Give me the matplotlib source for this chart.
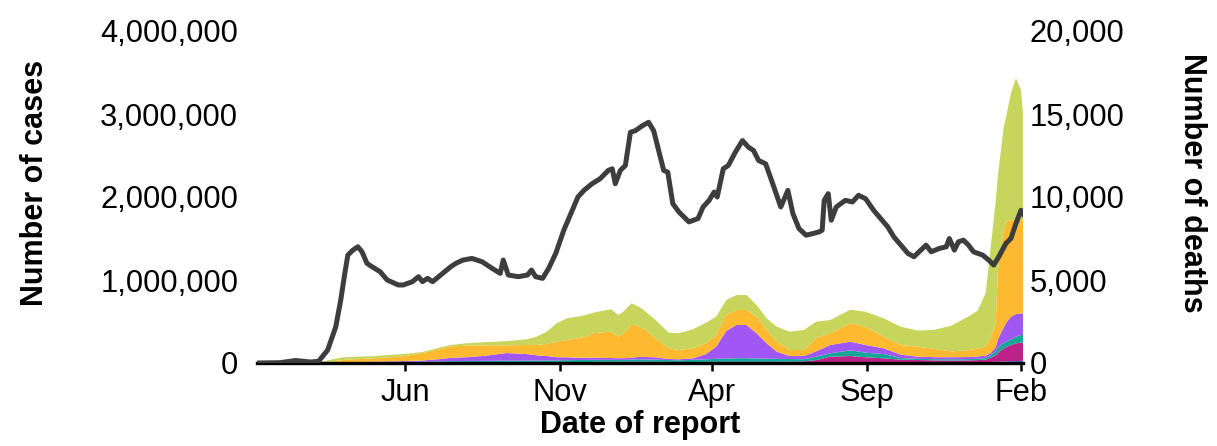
import matplotlib
matplotlib.use("Agg")
import matplotlib.pyplot as plt
import matplotlib.dates as mdates
from matplotlib.ticker import FuncFormatter
import numpy as np
import pandas as pd

plt.rcParams['font.family'] = ['Liberation Sans', 'DejaVu Sans']

ORIGIN = "2020-01-01"

# ---- cases by region (thousands per day), day = days since 2020-01-01
case_day = [5, 30, 45, 60, 70, 78, 90, 102, 120, 135,
            152, 169, 187, 197, 212, 232, 252, 272, 282, 292,
            302, 312, 322, 331, 338, 348, 356, 363, 368, 376,
            380, 386, 390, 400, 413, 423, 437, 450, 460, 470,
            480, 490, 500, 510, 520, 533, 547, 559, 573, 593,
            608, 626, 643, 660, 676, 693, 710, 719, 727, 732,
            737, 739, 742, 745, 747, 752, 757, 762, 765]
afro = [0, 0, 0, 0, 0, 0, 0, 1, 1, 1,
        1, 2, 2, 2, 2, 3, 3, 3, 3, 3,
        3, 3, 3, 3, 3, 3, 3, 3, 3, 4,
        4, 4, 4, 4, 3, 3, 3, 3, 3, 3,
        3, 3, 3, 3, 3, 3, 3, 5, 8, 8,
        8, 7, 6, 6, 6, 6, 7, 8, 10, 12,
        15, 16, 18, 19, 20, 22, 24, 25, 25]
wpro = [0, 1, 3, 1, 1, 2, 2, 2, 2, 3,
        3, 3, 3, 4, 4, 4, 5, 5, 5, 6,
        6, 7, 8, 9, 10, 11, 12, 12, 12, 12,
        14, 13, 12, 11, 10, 9, 9, 10, 11, 11,
        11, 11, 11, 11, 12, 13, 17, 30, 68, 76,
        61, 49, 34, 30, 26, 24, 25, 27, 30, 53,
        75, 104, 132, 156, 169, 195, 213, 220, 220]
emro = [0, 0, 0, 1, 2, 3, 4, 6, 8, 9,
        10, 12, 15, 17, 18, 19, 20, 21, 22, 22,
        23, 24, 25, 25, 25, 24, 23, 22, 22, 24,
        27, 27, 26, 25, 22, 21, 26, 32, 36, 41,
        44, 44, 41, 38, 35, 32, 25, 41, 41, 69,
        55, 52, 20, 14, 14, 15, 15, 15, 20, 30,
        50, 60, 67, 65, 68, 68, 80, 92, 95]
searo = [0, 0, 0, 0, 0, 0, 1, 2, 4, 7,
         10, 13, 28, 39, 45, 62, 92, 79, 63, 53,
         37, 35, 28, 27, 26, 24, 22, 21, 21, 22,
         25, 31, 30, 29, 13, 12, 18, 63, 147, 331,
         400, 400, 303, 185, 86, 36, 39, 64, 100, 104,
         93, 69, 40, 26, 24, 24, 25, 28, 30, 25,
         50, 100, 141, 190, 221, 273, 273, 258, 260]
amro = [0, 0, 0, 0, 2, 10, 29, 34, 40, 48,
        60, 90, 121, 138, 140, 125, 93, 109, 124, 145,
        188, 208, 233, 253, 294, 308, 317, 259, 300, 396,
        388, 345, 326, 228, 129, 112, 121, 129, 140, 192,
        181, 181, 200, 161, 121, 73, 73, 160, 141, 221,
        220, 140, 117, 121, 100, 71, 83, 97, 110, 180,
        290, 800, 1042, 1170, 1222, 1162, 1140, 1125, 1120]
euro = [0, 0, 0, 3, 12, 25, 32, 30, 27, 28,
        26, 13, 20, 17, 28, 39, 50, 68, 100, 148,
        221, 261, 261, 261, 248, 260, 270, 261, 260, 261,
        241, 239, 220, 221, 188, 201, 229, 249, 221, 181,
        180, 180, 141, 140, 180, 220, 241, 198, 160, 164,
        181, 221, 220, 193, 230, 310, 405, 455, 640, 1100,
        1470, 1160, 1150, 1250, 1250, 1530, 1700, 1570, 1130]

region_colors = ["#2f6fc4", "#bd2289", "#16a697", "#a157f4", "#fdb92f", "#c8d55c"]

# ---- deaths (per day)
death_day = [5, 28, 43, 58, 66, 75, 83, 88, 92, 95, 100, 105, 109, 114, 119, 127, 134, 145, 150, 159,
             165, 169, 174, 179, 187, 197, 202, 209, 218, 228, 238, 246, 249, 254, 264, 273, 277, 281, 288, 294,
             301, 309, 316, 323, 329, 337, 345, 353, 357, 360, 365, 370, 375, 380, 387, 393, 398, 403, 408, 412,
             417, 423, 433, 442, 447, 453, 458, 461, 467, 472, 479, 486, 492, 497, 502, 509, 516, 524, 531, 536,
             542, 549, 556, 562, 565, 567, 571, 574, 579, 588, 595, 601, 608, 616, 623, 630, 636, 643, 650, 656,
             661, 668, 673, 681, 688, 691, 696, 700, 705, 710, 715, 724, 730, 735, 740, 747, 752, 757, 762, 765]
deaths = [0, 20, 150, 60, 100, 780, 2170, 3800, 5400, 6500, 6800, 7000, 6700, 6000, 5800, 5500, 5000, 4700, 4700, 4900,
          5200, 4900, 5100, 4900, 5300, 5800, 6000, 6200, 6300, 6100, 5700, 5400, 6200, 5300, 5200, 5300, 5600, 5200, 5100, 5700,
          6600, 8000, 9000, 10000, 10400, 10800, 11100, 11600, 11700, 10800, 11600, 11900, 13900, 14000, 14300, 14500, 14000, 12800, 11600, 11500,
          9600, 9100, 8500, 8700, 9400, 9800, 10300, 10000, 11700, 11900, 12700, 13400, 13000, 12800, 12200, 12000, 10800, 9400, 10400, 9000,
          8100, 7700, 7800, 7900, 8000, 9800, 10200, 8600, 9400, 9800, 9700, 10100, 9900, 9200, 8700, 8200, 7600, 7100, 6600, 6400,
          6700, 7100, 6700, 6900, 7000, 7500, 6800, 7300, 7400, 7100, 6700, 6500, 6200, 5900, 6400, 7200, 7500, 8400, 9200, 8900]

x_ticks = ["2020-06-01", "2020-11-01", "2021-04-01", "2021-09-01", "2022-02-01"]
cases_ticks = [0, 1_000_000, 2_000_000, 3_000_000, 4_000_000]
deaths_ticks = [0, 5000, 10000, 15000, 20000]

origin = pd.Timestamp(ORIGIN)
cdates = origin + pd.to_timedelta(case_day, unit="D")
ddates = origin + pd.to_timedelta(death_day, unit="D")
series = [np.array(s) * 1000 for s in (afro, wpro, emro, searo, amro, euro)]

TICK_FS = 22.2
LAB_FS = 22

fig = plt.figure(figsize=(12.17, 4.46), dpi=100)
ax = fig.add_axes([257 / 1217, 83 / 446, 766 / 1217, 332 / 446])
ax.stackplot(cdates, *series, colors=region_colors, linewidth=0)
ax.set_ylim(0, 4_000_000)
ax.set_xlim(origin + pd.Timedelta(days=5), origin + pd.Timedelta(days=764))
ax.set_yticks(cases_ticks)
ax.yaxis.set_major_formatter(FuncFormatter(lambda v, p: f"{int(v):,}"))
ax.set_xticks(pd.to_datetime(x_ticks))
ax.xaxis.set_major_formatter(mdates.DateFormatter("%b"))
for s in ("top", "right", "left"):
    ax.spines[s].set_visible(False)
ax.spines["bottom"].set_linewidth(2.4)
ax.spines["bottom"].set_color("black")
ax.tick_params(axis="x", length=6, width=1.8, color="black", labelsize=TICK_FS, pad=5)
ax.tick_params(axis="y", length=0, labelsize=TICK_FS, pad=13.5)
ax.set_xlabel("Date of report", fontsize=LAB_FS, fontweight="bold")
ax.xaxis.set_label_coords(0.5, (363 - 425) / 332)
ax.xaxis.label.set_verticalalignment("center")
ax.set_ylabel("Number of cases", fontsize=LAB_FS, fontweight="bold")
ax.yaxis.set_label_coords((35 - 257) / 766, (363 - 183) / 332)
ax.yaxis.label.set_verticalalignment("center")

ax2 = ax.twinx()
ax2.plot(ddates, deaths, color="#3d3d3d", linewidth=3.6, solid_joinstyle="round", solid_capstyle="round")
ax2.set_ylim(0, 20000)
ax2.set_yticks(deaths_ticks)
ax2.yaxis.set_major_formatter(FuncFormatter(lambda v, p: f"{int(v):,}"))
for s in ("top", "right", "left", "bottom"):
    ax2.spines[s].set_visible(False)
ax2.tick_params(axis="y", length=0, labelsize=TICK_FS, pad=5)
ax2.set_ylabel("Number of deaths", fontsize=LAB_FS, fontweight="bold", rotation=270)
ax2.yaxis.set_label_coords((1192 - 257) / 766, (363 - 183) / 332)
ax2.yaxis.label.set_verticalalignment("center")

fig.savefig("out.png", dpi=100)
